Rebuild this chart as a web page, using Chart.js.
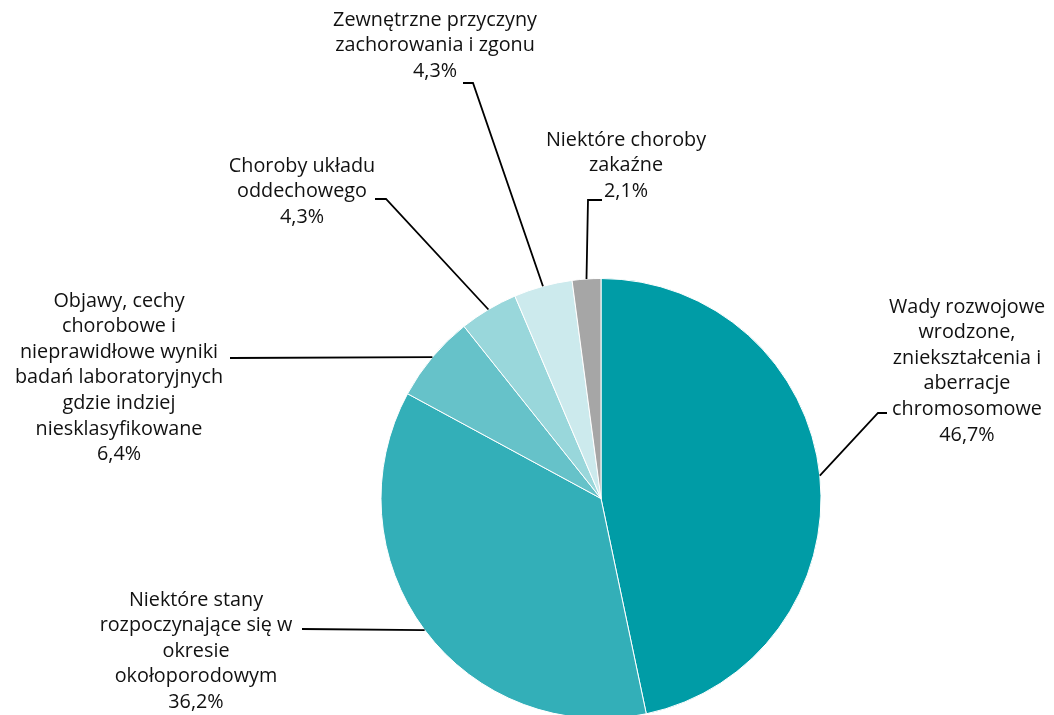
<!DOCTYPE html>
<html lang="pl">
<head>
  <meta charset="UTF-8">
  <title>Przyczyny zgonów</title>
  <script src="https://cdn.jsdelivr.net/npm/chart.js"></script>
  <style>
    html, body { margin: 0; padding: 0; background: #fff; overflow: hidden; }
    canvas { display: block; }
  </style>
</head>
<body>
  <canvas id="chart" width="1054" height="720"></canvas>

  <script>
    // dane
    const labels = [
      ['Wady rozwojowe', 'wrodzone,', 'zniekształcenia i', 'aberracje', 'chromosomowe'],
      ['Niektóre stany', 'rozpoczynające się w', 'okresie', 'okołoporodowym'],
      ['Objawy, cechy', 'chorobowe i', 'nieprawidłowe wyniki', 'badań laboratoryjnych', 'gdzie indziej', 'niesklasyfikowane'],
      ['Choroby układu', 'oddechowego'],
      ['Zewnętrzne przyczyny', 'zachorowania i zgonu'],
      ['Niektóre choroby', 'zakaźne']
    ];
    const values = [46.7, 36.2, 6.4, 4.3, 4.3, 2.1];
    const colors = ['#009ca6', '#33afb8', '#66c2c9', '#99d7db', '#cceaed', '#a6a6a6'];

    // gdzie stoją opisy (środek tekstu, pierwsza linia) i łamanie linii odnośnika
    const labelLayout = [
      { cx: 967, y0: 307, path: [[878, 413], [887, 413]] },
      { cx: 196, y0: 600, path: [[302, 629]] },
      { cx: 119, y0: 301, path: [[230, 358]] },
      { cx: 302, y0: 166, path: [[386, 199], [375, 199]] },
      { cx: 435, y0: 20,  path: [[473, 83], [463, 83]] },
      { cx: 626, y0: 140, path: [[588, 200], [602, 200]] }
    ];
    const lineHeight = 25.6;

    const fmt = v => v.toFixed(1).replace('.', ',') + '%';

    const leaderLabels = {
      id: 'leaderLabels',
      afterDraw(chart) {
        const ctx = chart.ctx;
        const meta = chart.getDatasetMeta(0);
        ctx.save();
        meta.data.forEach((arc, i) => {
          const mid = (arc.startAngle + arc.endAngle) / 2;
          const r = arc.outerRadius;
          const sx = arc.x + Math.cos(mid) * r;
          const sy = arc.y + Math.sin(mid) * r;
          const lay = labelLayout[i];

          ctx.strokeStyle = '#000';
          ctx.lineWidth = 1.8;
          ctx.beginPath();
          ctx.moveTo(sx, sy);
          lay.path.forEach(p => ctx.lineTo(p[0], p[1]));
          ctx.stroke();

          const lines = labels[i].concat([fmt(values[i])]);
          ctx.fillStyle = '#111';
          ctx.font = '19.8px "Open Sans", sans-serif';
          ctx.textAlign = 'center';
          ctx.textBaseline = 'middle';
          lines.forEach((t, k) => ctx.fillText(t, lay.cx, lay.y0 + k * lineHeight));
        });
        ctx.restore();
      }
    };

    new Chart(document.getElementById('chart'), {
      type: 'pie',
      data: {
        labels: labels.map(l => l.join(' ')),
        datasets: [{
          data: values,
          backgroundColor: colors,
          borderColor: '#ffffff',
          borderWidth: 1
        }]
      },
      options: {
        responsive: false,
        animation: false,
        layout: { padding: { left: 380, right: 232, top: 278, bottom: 1 } },
        plugins: {
          legend: { display: false },
          tooltip: { enabled: false }
        }
      },
      plugins: [leaderLabels]
    });
  </script>
</body>
</html>
